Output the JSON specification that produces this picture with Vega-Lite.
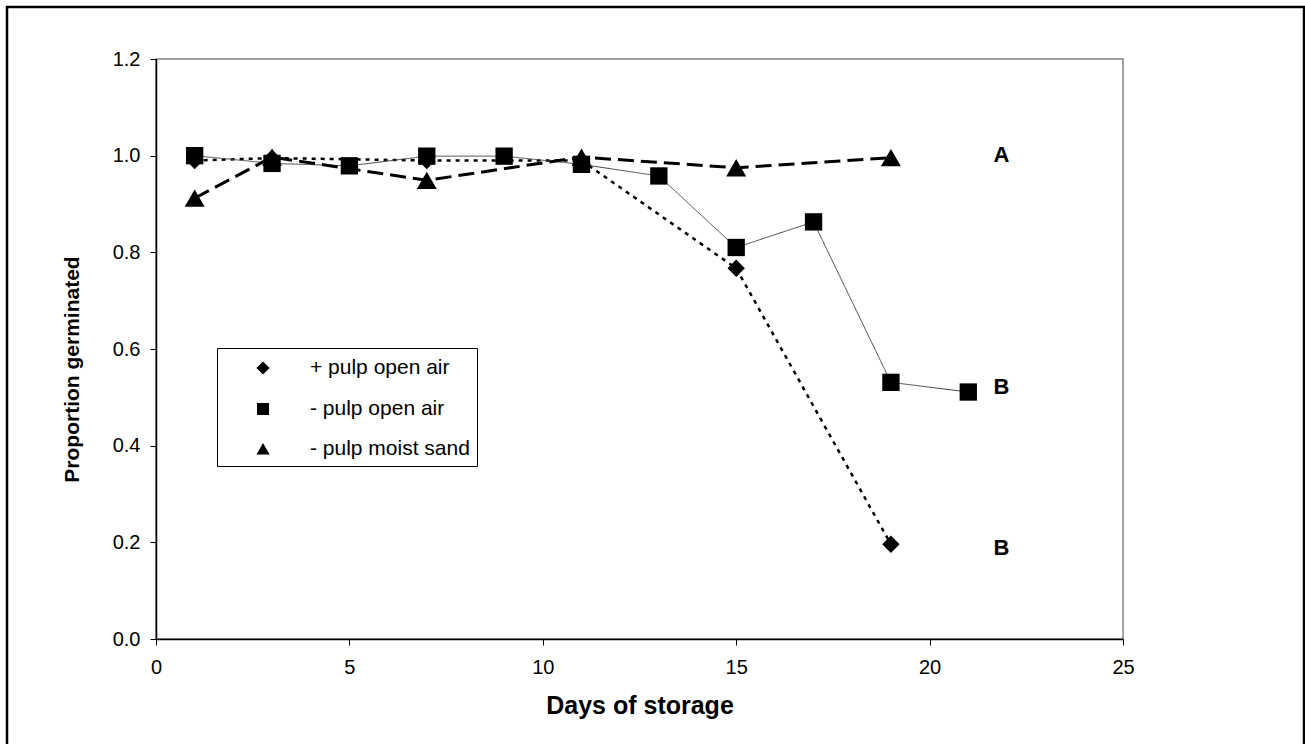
{
  "$schema": "https://vega.github.io/schema/vega-lite/v6.json",
  "width": 967,
  "height": 580,
  "autosize": {"type": "none"},
  "padding": {"left": 156, "top": 59, "right": 182, "bottom": 105},
  "background": "white",
  "config": {
    "font": "Liberation Sans",
    "view": {"stroke": "#808080", "strokeWidth": 1.5},
    "axis": {
      "grid": false,
      "domainColor": "black",
      "domainWidth": 1.5,
      "tickColor": "black",
      "tickSize": 6,
      "labelColor": "black",
      "titleColor": "black",
      "labelFont": "Liberation Sans",
      "titleFont": "Liberation Sans",
      "labelFontSize": 20,
      "titleFontWeight": "bold"
    }
  },
  "datasets": {
    "germination": [
      {"series": "+ pulp open air", "day": 1, "p": 0.99},
      {"series": "+ pulp open air", "day": 3, "p": 0.995},
      {"series": "+ pulp open air", "day": 7, "p": 0.99},
      {"series": "+ pulp open air", "day": 11, "p": 0.99},
      {"series": "+ pulp open air", "day": 15, "p": 0.767},
      {"series": "+ pulp open air", "day": 19, "p": 0.196},
      {"series": "- pulp open air", "day": 1, "p": 1.0},
      {"series": "- pulp open air", "day": 3, "p": 0.984},
      {"series": "- pulp open air", "day": 5, "p": 0.979},
      {"series": "- pulp open air", "day": 7, "p": 0.999},
      {"series": "- pulp open air", "day": 9, "p": 0.999},
      {"series": "- pulp open air", "day": 11, "p": 0.982},
      {"series": "- pulp open air", "day": 13, "p": 0.958},
      {"series": "- pulp open air", "day": 15, "p": 0.81},
      {"series": "- pulp open air", "day": 17, "p": 0.863},
      {"series": "- pulp open air", "day": 19, "p": 0.531},
      {"series": "- pulp open air", "day": 21, "p": 0.511},
      {"series": "- pulp moist sand", "day": 1, "p": 0.912},
      {"series": "- pulp moist sand", "day": 3, "p": 0.997},
      {"series": "- pulp moist sand", "day": 7, "p": 0.949},
      {"series": "- pulp moist sand", "day": 11, "p": 0.997},
      {"series": "- pulp moist sand", "day": 15, "p": 0.975},
      {"series": "- pulp moist sand", "day": 19, "p": 0.996}
    ],
    "groups": [
      {"grade": "A", "day": 21.86, "p": 1.001},
      {"grade": "B", "day": 21.86, "p": 0.522},
      {"grade": "B", "day": 21.86, "p": 0.189}
    ]
  },
  "layer": [
    {
      "data": {"values": [{}]},
      "mark": {"type": "rect", "fill": null, "stroke": "black", "strokeWidth": 2.5, "clip": false},
      "encoding": {
        "x": {"datum": -3.852, "type": "quantitative", "scale": {"domain": [0, 25], "nice": false, "zero": false}},
        "x2": {"datum": 29.68},
        "y": {"datum": 1.3077, "type": "quantitative", "scale": {"domain": [0, 1.2], "nice": false, "zero": false}},
        "y2": {"datum": -0.2214}
      }
    },
    {
      "data": {"name": "germination"},
      "mark": {"type": "line", "clip": false},
      "encoding": {
        "x": {
          "field": "day",
          "type": "quantitative",
          "scale": {"domain": [0, 25], "nice": false, "zero": false},
          "axis": {"values": [0, 5, 10, 15, 20, 25], "title": "Days of storage", "titleFontSize": 25, "labelPadding": 12, "titlePadding": 16, "labelFlush": false}
        },
        "y": {
          "field": "p",
          "type": "quantitative",
          "scale": {"domain": [0, 1.2], "nice": false, "zero": false},
          "axis": {"values": [0, 0.2, 0.4, 0.6, 0.8, 1.0, 1.2], "format": ".1f", "title": "Proportion germinated", "titleFontSize": 21, "titleY": 310, "labelPadding": 10, "titlePadding": 30, "labelFlush": false}
        },
        "strokeDash": {
          "field": "series",
          "type": "nominal",
          "scale": {"domain": ["+ pulp open air", "- pulp open air", "- pulp moist sand"], "range": [[4, 5], [1, 0], [16, 7]]},
          "legend": {
            "title": null,
            "orient": "none",
            "legendX": 61,
            "legendY": 289,
            "strokeColor": "black",
            "fillColor": "white",
            "padding": 7,
            "rowPadding": 17,
            "symbolSize": 576,
            "symbolStrokeWidth": 2,
            "symbolStrokeColor": "black",
            "symbolFillColor": "black",
            "symbolOpacity": 1,
            "labelOffset": 60,
            "labelFont": "Liberation Sans",
            "labelFontSize": 21,
            "labelColor": "black"
          }
        },
        "color": {
          "condition": {"test": "datum.series === '- pulp open air'", "value": "#444444"},
          "value": "black"
        },
        "strokeWidth": {
          "condition": [
            {"test": "datum.series === '- pulp open air'", "value": 1},
            {"test": "datum.series === '- pulp moist sand'", "value": 3}
          ],
          "value": 2.5
        }
      }
    },
    {
      "data": {"name": "germination"},
      "mark": {"type": "point", "fill": "black", "stroke": "black", "strokeWidth": 2, "opacity": 0, "clip": false},
      "encoding": {
        "x": {"field": "day", "type": "quantitative", "scale": {"domain": [0, 25], "nice": false, "zero": false}},
        "y": {"field": "p", "type": "quantitative", "scale": {"domain": [0, 1.2], "nice": false, "zero": false}},
        "shape": {
          "field": "series",
          "type": "nominal",
          "scale": {
            "domain": ["+ pulp open air", "- pulp open air", "- pulp moist sand"],
            "range": [
              "M-1.25,0H5.25M2.17,-0.55L2.72,0L2.17,0.55L1.62,0Z",
              "M-1.25,0H5.25M1.67,-0.5H2.67V0.5H1.67Z",
              "M-1.25,0H5.25M2.17,-0.5L2.72,0.45H1.62Z"
            ]
          },
          "legend": {
            "title": null,
            "orient": "none",
            "legendX": 61,
            "legendY": 289,
            "symbolOpacity": 1,
            "symbolStrokeColor": "black",
            "symbolFillColor": "black"
          }
        }
      }
    },
    {
      "data": {"name": "germination"},
      "mark": {"type": "point", "filled": true, "opacity": 1, "clip": false},
      "encoding": {
        "x": {"field": "day", "type": "quantitative", "scale": {"domain": [0, 25], "nice": false, "zero": false}},
        "y": {"field": "p", "type": "quantitative", "scale": {"domain": [0, 1.2], "nice": false, "zero": false}},
        "shape": {
          "condition": [
            {"test": "datum.series === '+ pulp open air'", "value": "diamond"},
            {"test": "datum.series === '- pulp open air'", "value": "square"}
          ],
          "value": "triangle-up"
        },
        "size": {
          "condition": [
            {"test": "datum.series === '+ pulp open air'", "value": 300},
            {"test": "datum.series === '- pulp open air'", "value": 300}
          ],
          "value": 400
        },
        "color": {"value": "black"}
      }
    },
    {
      "data": {"name": "groups"},
      "mark": {"type": "text", "font": "Liberation Sans", "fontSize": 22, "fontWeight": "bold", "align": "center", "baseline": "middle", "color": "black"},
      "encoding": {
        "x": {"field": "day", "type": "quantitative", "scale": {"domain": [0, 25], "nice": false, "zero": false}},
        "y": {"field": "p", "type": "quantitative", "scale": {"domain": [0, 1.2], "nice": false, "zero": false}},
        "text": {"field": "grade"}
      }
    }
  ]
}
